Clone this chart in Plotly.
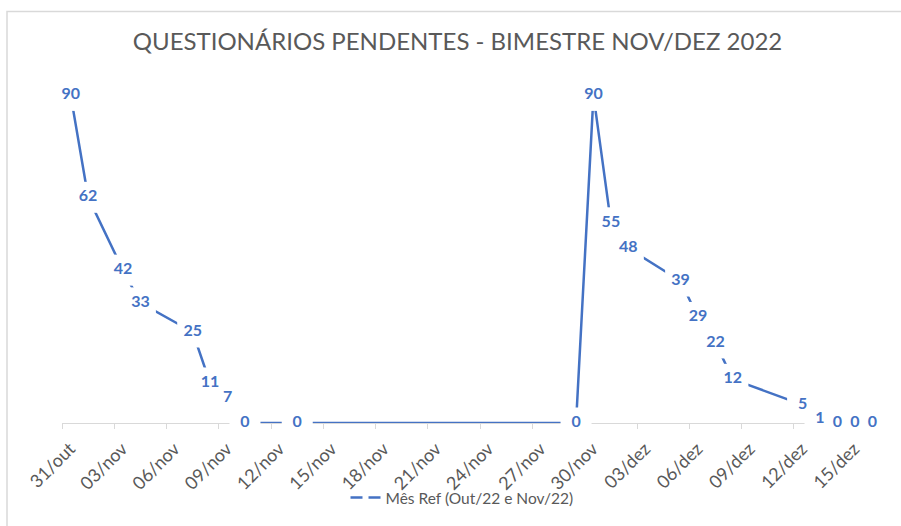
import plotly.graph_objects as go

# Data
dates = ["2022-10-31", "2022-11-01", "2022-11-03", "2022-11-04", "2022-11-07",
         "2022-11-08", "2022-11-09", "2022-11-10", "2022-11-13", "2022-11-29",
         "2022-11-30", "2022-12-01", "2022-12-02", "2022-12-05", "2022-12-06",
         "2022-12-07", "2022-12-08", "2022-12-12", "2022-12-13", "2022-12-14",
         "2022-12-15", "2022-12-16"]
pendentes = [90, 62, 42, 33, 25, 11, 7, 0, 0, 0,
             90, 55, 48, 39, 29, 22, 12, 5, 1, 0, 0, 0]

tick_vals = ["2022-10-31", "2022-11-03", "2022-11-06", "2022-11-09", "2022-11-12",
             "2022-11-15", "2022-11-18", "2022-11-21", "2022-11-24", "2022-11-27",
             "2022-11-30", "2022-12-03", "2022-12-06", "2022-12-09", "2022-12-12",
             "2022-12-15"]
tick_text = ["31/out", "03/nov", "06/nov", "09/nov", "12/nov", "15/nov", "18/nov",
             "21/nov", "24/nov", "27/nov", "30/nov", "03/dez", "06/dez", "09/dez",
             "12/dez", "15/dez"]

series_name = "Mês Ref (Out/22 e Nov/22)"
title_text = "QUESTIONÁRIOS PENDENTES - BIMESTRE NOV/DEZ 2022"

BLUE = "#4472C4"
GRAY_TXT = "#595959"
GRAY_LINE = "#D9D9D9"
FONT = "Lato"

fig = go.Figure()

fig.add_trace(go.Scatter(
    x=dates, y=pendentes,
    xperiod=86400000, xperiodalignment="middle",
    mode="lines+markers+text",
    line=dict(color=BLUE, width=2.5),
    marker=dict(symbol="square", size=31, color="white", line=dict(width=0)),
    text=[str(v) for v in pendentes],
    textposition="middle center",
    textfont=dict(family=FONT, size=16, color=BLUE, weight="bold"),
    cliponaxis=False,
    showlegend=False,
    hoverinfo="x+y",
))

# legend entry (dashed symbol as in reference)
fig.add_trace(go.Scatter(
    x=[None], y=[None], mode="lines", name=series_name,
    line=dict(color=BLUE, width=2.5, dash="12px,6px"),
    showlegend=True,
))

W, H = 901, 526
ml, mr, mt, mb = 62, 20, 58.5, 103
pw, ph = W - ml - mr, H - mt - mb

fig.update_layout(
    width=W, height=H,
    margin=dict(l=ml, r=mr, t=mt, b=mb, autoexpand=False),
    paper_bgcolor="white", plot_bgcolor="white",
    title=dict(text=title_text, x=457.5 / W, xanchor="center",
               y=1 - 42 / H, yanchor="middle",
               font=dict(family=FONT, size=24, color=GRAY_TXT)),
    xaxis=dict(
        type="date",
        range=["2022-10-31", "2022-12-17"],
        tickmode="array", tickvals=tick_vals, ticktext=tick_text,
        tickangle=-45,
        tickfont=dict(family=FONT, size=18, color=GRAY_TXT),
        ticklabelshift=8, ticklabelstandoff=2,
        showgrid=False, zeroline=False,
        showline=True, linecolor=GRAY_LINE, linewidth=1.3,
        ticks="outside", ticklen=5, tickcolor=GRAY_LINE, tickwidth=1.3,
        layer="below traces", automargin=False,
    ),
    yaxis=dict(range=[0, 100], visible=False, showgrid=False, zeroline=False,
               automargin=False),
    legend=dict(orientation="h", x=(462 - ml) / pw, xanchor="center",
                y=(H - mb - 498) / ph, yanchor="middle",
                font=dict(family=FONT, size=15.5, color=GRAY_TXT),
                bgcolor="rgba(0,0,0,0)"),
    shapes=[dict(type="rect", xref="paper", yref="paper",
                 x0=(7 - ml) / pw, x1=(W + 20 - ml) / pw,
                 y0=(H - mb - (H + 20)) / ph, y1=(H - mb - 11) / ph,
                 line=dict(color=GRAY_LINE, width=1.5), fillcolor="rgba(0,0,0,0)",
                 layer="below")],
)

fig.write_html("out.html", config={"displayModeBar": False},
               post_script="document.body.style.margin='0';document.body.style.overflow='hidden';")
